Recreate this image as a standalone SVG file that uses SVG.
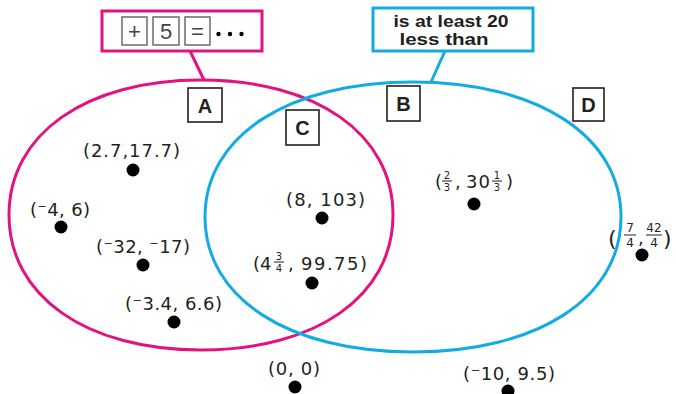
<svg xmlns="http://www.w3.org/2000/svg" width="676" height="394" viewBox="0 0 676 394">
<style>
.mag{fill:none;stroke:#E2137F;stroke-width:3}
.cy{fill:none;stroke:#12ACE3;stroke-width:3}
.lbox{fill:#fff;stroke:#231F20;stroke-width:1.6}
.lbl{font-family:"Liberation Sans",Arial,sans-serif;font-weight:bold;font-size:20px;fill:#231F20;text-anchor:middle}
.pt{font-family:"DejaVu Sans","Noto Sans",sans-serif;font-size:18px;fill:#231F20}
.fr{font-family:"DejaVu Sans","Noto Sans",sans-serif;font-size:10px;fill:#231F20;text-anchor:middle}
.fr12{font-size:12px}
.big{font-size:22px}
.frl{stroke:#231F20;stroke-width:1}
.dot{fill:#000}
.kb{fill:#fff;stroke:#555;stroke-width:1.3}
.kt{font-family:"Liberation Sans",Arial,sans-serif;font-size:22px;fill:#444;text-anchor:middle}
.call{font-family:"Liberation Sans",Arial,sans-serif;font-weight:bold;font-size:17px;fill:#231F20;text-anchor:middle}
</style>
<g id="sets">
<path id="setA" class="mag" d="M9,215 C9,134 85.8,80 201,80 C316.2,80 393,134 393,215 C393,296 316.2,350 201,350 C85.8,350 9,296 9,215Z"/>
<path id="setB" class="cy" d="M205,217 C205,136 288.2,82 413,82 C537.8,82 621,136 621,217 C621,298 537.8,352 413,352 C288.2,352 205,298 205,217Z"/>
</g>
<g id="connectors">
<line class="mag" x1="190" y1="51" x2="204" y2="80"/>
<line class="cy" x1="445" y1="51" x2="431" y2="82"/>
</g>
<g id="callout-plus5">
<rect class="mag" x="102" y="11" width="160" height="40"/>
<rect class="kb" x="122" y="17" width="25" height="28"/>
<text class="kt" x="134.5" y="39">+</text>
<rect class="kb" x="153" y="17" width="26" height="28"/>
<text class="kt" x="166" y="39">5</text>
<rect class="kb" x="185" y="17" width="25" height="28"/>
<text class="kt" x="197.5" y="39">=</text>
<circle class="dot" cx="218.5" cy="34" r="2.2"/>
<circle class="dot" cx="230" cy="34" r="2.2"/>
<circle class="dot" cx="241.5" cy="34" r="2.2"/>
</g>
<g id="callout-atleast">
<rect class="cy" x="373" y="8" width="160" height="43"/>
<text class="call" x="451" y="27" textLength="115" lengthAdjust="spacingAndGlyphs">is at least 20</text>
<text class="call" x="444" y="45" textLength="89" lengthAdjust="spacingAndGlyphs">less than</text>
</g>
<g id="label-A"><rect class="lbox" x="188" y="88" width="34" height="34"/><text class="lbl" x="205" y="113">A</text></g>
<g id="label-B"><rect class="lbox" x="387" y="86" width="33" height="35"/><text class="lbl" x="403.5" y="111">B</text></g>
<g id="label-C"><rect class="lbox" x="286" y="110" width="33" height="35"/><text class="lbl" x="302.5" y="135">C</text></g>
<g id="label-D"><rect class="lbox" x="573" y="88" width="31" height="33"/><text class="lbl" x="588.5" y="112">D</text></g>
<g id="p1"><text class="pt" x="83" y="157" textLength="97">(2.7,17.7)</text><circle class="dot" cx="133" cy="170" r="6.5"/></g>
<g id="p2"><text class="pt" x="30" y="216" textLength="60">(⁻4, 6)</text><circle class="dot" cx="61" cy="227" r="6.5"/></g>
<g id="p3"><text class="pt" x="96" y="253" textLength="94">(⁻32, ⁻17)</text><circle class="dot" cx="143" cy="265" r="6.5"/></g>
<g id="p4"><text class="pt" x="125" y="310" textLength="97">(⁻3.4, 6.6)</text><circle class="dot" cx="174" cy="322" r="6.5"/></g>
<g id="p5"><text class="pt" x="286" y="206" textLength="79">(8, 103)</text><circle class="dot" cx="322" cy="218" r="6.5"/></g>
<g id="p6">
<text class="pt" x="253" y="270">(4</text>
<text class="fr" x="279" y="260">3</text><line class="frl" x1="274" y1="262" x2="284" y2="262"/><text class="fr" x="279" y="272">4</text>
<text class="pt" x="288" y="270">,</text>
<text class="pt" x="301" y="270" textLength="66">99.75)</text>
<circle class="dot" cx="312" cy="283" r="6.5"/></g>
<g id="p7">
<text class="pt" x="435" y="188">(</text>
<text class="fr" x="447" y="179">2</text><line class="frl" x1="442" y1="181" x2="452" y2="181"/><text class="fr" x="447" y="191">3</text>
<text class="pt" x="455" y="188">,</text>
<text class="pt" x="466" y="188" textLength="24">30</text>
<text class="fr" x="497" y="179">1</text><line class="frl" x1="492" y1="181" x2="502" y2="181"/><text class="fr" x="497" y="191">3</text>
<text class="pt" x="506" y="188">)</text>
<circle class="dot" cx="474" cy="204" r="6.5"/></g>
<g id="p8">
<text class="pt big" x="608" y="246">(</text>
<text class="fr fr12" x="630" y="232">7</text><line class="frl" x1="624" y1="235" x2="636" y2="235"/><text class="fr fr12" x="630" y="247">4</text>
<text class="pt" x="638" y="244">,</text>
<text class="fr fr12" x="654" y="232">42</text><line class="frl" x1="646" y1="235" x2="662" y2="235"/><text class="fr fr12" x="654" y="247">4</text>
<text class="pt big" x="663" y="246">)</text>
<circle class="dot" cx="642" cy="255" r="6.5"/></g>
<g id="p9"><text class="pt" x="268" y="375" textLength="52">(0, 0)</text><circle class="dot" cx="295" cy="387" r="6.5"/></g>
<g id="p10"><text class="pt" x="463" y="380" textLength="92">(⁻10, 9.5)</text><circle class="dot" cx="508" cy="391" r="6.5"/></g>
</svg>
